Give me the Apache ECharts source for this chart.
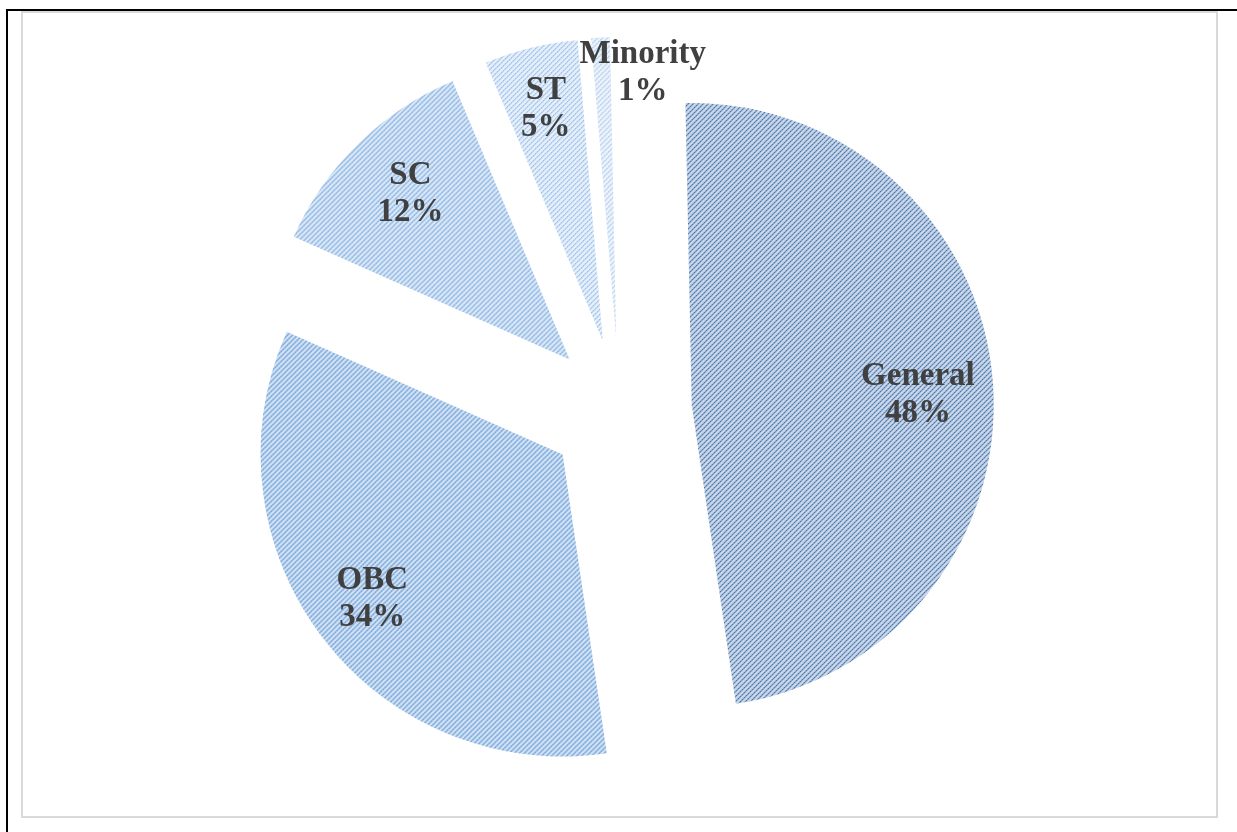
<!DOCTYPE html>
<html>
<head>
<meta charset="utf-8">
<script src="https://cdn.jsdelivr.net/npm/echarts@6/dist/echarts.min.js"></script>
<style>
  html, body { margin: 0; padding: 0; background: #ffffff; }
  #wrap { position: relative; width: 1237px; height: 832px; overflow: hidden; }
  #chart { position: absolute; left: 0; top: 0; width: 1237px; height: 832px; }
  .edge-top { position: absolute; left: 6px; top: 9px; width: 1231px; height: 2px; background: #000; }
  .edge-left { position: absolute; left: 6px; top: 9px; width: 2px; height: 823px; background: #000; }
  .frame { position: absolute; left: 21px; top: 11px; width: 1193px; height: 803px;
           border: 2.5px solid #d9d9d9; box-sizing: content-box; }
</style>
</head>
<body>
<div id="wrap">
  <div class="frame"></div>
  <div class="edge-top"></div>
  <div class="edge-left"></div>
  <div id="chart"></div>
</div>
<script>
// Share of candidates by category (percent)
const categories = ['General', 'OBC', 'SC', 'ST', 'Minority'];
const shares = [48, 34, 12, 5, 1];

// Hatch palettes per category: [background, stripe, dot]
const hatchColors = [
  ['#c9d7e9', '#6f93c2', '#3d6a9c'],
  ['#d3e3f4', '#7eabdf', '#4a87c9'],
  ['#dde9f7', '#93bbe8', '#5f9ad8'],
  ['#e7f0fa', '#b4d0ef', '#8fb8e6'],
  ['#ecf3fb', '#c6dcf3', '#a8c8ec']
];

// Builds a repeating "/" diagonal hatch tile
function hatch(bg, stripe, dot) {
  const n = 5;
  const size = n * 2;
  const c = document.createElement('canvas');
  c.width = size; c.height = size;
  const g = c.getContext('2d');
  g.fillStyle = bg;
  g.fillRect(0, 0, size, size);
  for (let y = 0; y < size; y++) {
    for (let x = 0; x < size; x++) {
      const k = (x + y) % n;
      if (k === 0) {
        g.fillStyle = (x % 2 === 0) ? dot : stripe;
        g.fillRect(x, y, 1, 1);
      } else if (k === 1) {
        g.fillStyle = stripe;
        g.globalAlpha = 0.7;
        g.fillRect(x, y, 1, 1);
        g.globalAlpha = 1;
      }
    }
  }
  return { image: c, repeat: 'repeat' };
}

const patterns = hatchColors.map(h => hatch(h[0], h[1], h[2]));

const center = [620, 411];
const outerR = 302;
const explode = 72;
const start = 91.2;

const sliceData = categories.map((name, i) => ({
  name: name,
  value: shares[i],
  selected: true,
  itemStyle: { color: patterns[i] },
  select: { itemStyle: { color: patterns[i], borderWidth: 0 } }
}));

const labelData = categories.map((name, i) => ({
  name: name,
  value: shares[i],
  selected: true
}));

const chart = echarts.init(document.getElementById('chart'), null, { renderer: 'canvas' });
chart.setOption({
  animation: false,
  series: [
    {
      type: 'pie',
      center: center,
      radius: [0, outerR],
      startAngle: start,
      clockwise: true,
      selectedMode: 'multiple',
      selectedOffset: explode,
      silent: true,
      avoidLabelOverlap: false,
      label: { show: false },
      labelLine: { show: false },
      itemStyle: { borderWidth: 0 },
      emphasis: { disabled: true },
      data: sliceData
    },
    {
      // transparent ring used to place the category labels
      type: 'pie',
      center: center,
      radius: [170, outerR],
      startAngle: start,
      clockwise: true,
      selectedMode: 'multiple',
      selectedOffset: explode,
      silent: true,
      avoidLabelOverlap: false,
      itemStyle: { color: 'rgba(0,0,0,0)', borderWidth: 0 },
      select: { itemStyle: { color: 'rgba(0,0,0,0)', borderWidth: 0 } },
      emphasis: { disabled: true },
      labelLine: { show: false },
      label: {
        show: true,
        position: 'inside',
        formatter: '{b}\n{d}%',
        fontFamily: '"Liberation Serif", "Times New Roman", serif',
        fontWeight: 'bold',
        fontSize: 33,
        lineHeight: 37,
        color: '#404040'
      },
      labelLayout: function (p) {
        if (p.dataIndex === 4) return { dx: 39, dy: -27 };
        if (p.dataIndex === 0) return { dx: -12, dy: 10 };
        if (p.dataIndex === 2) return { dx: 8, dy: 5 };
        return {};
      },
      data: labelData
    }
  ]
});
</script>
</body>
</html>
